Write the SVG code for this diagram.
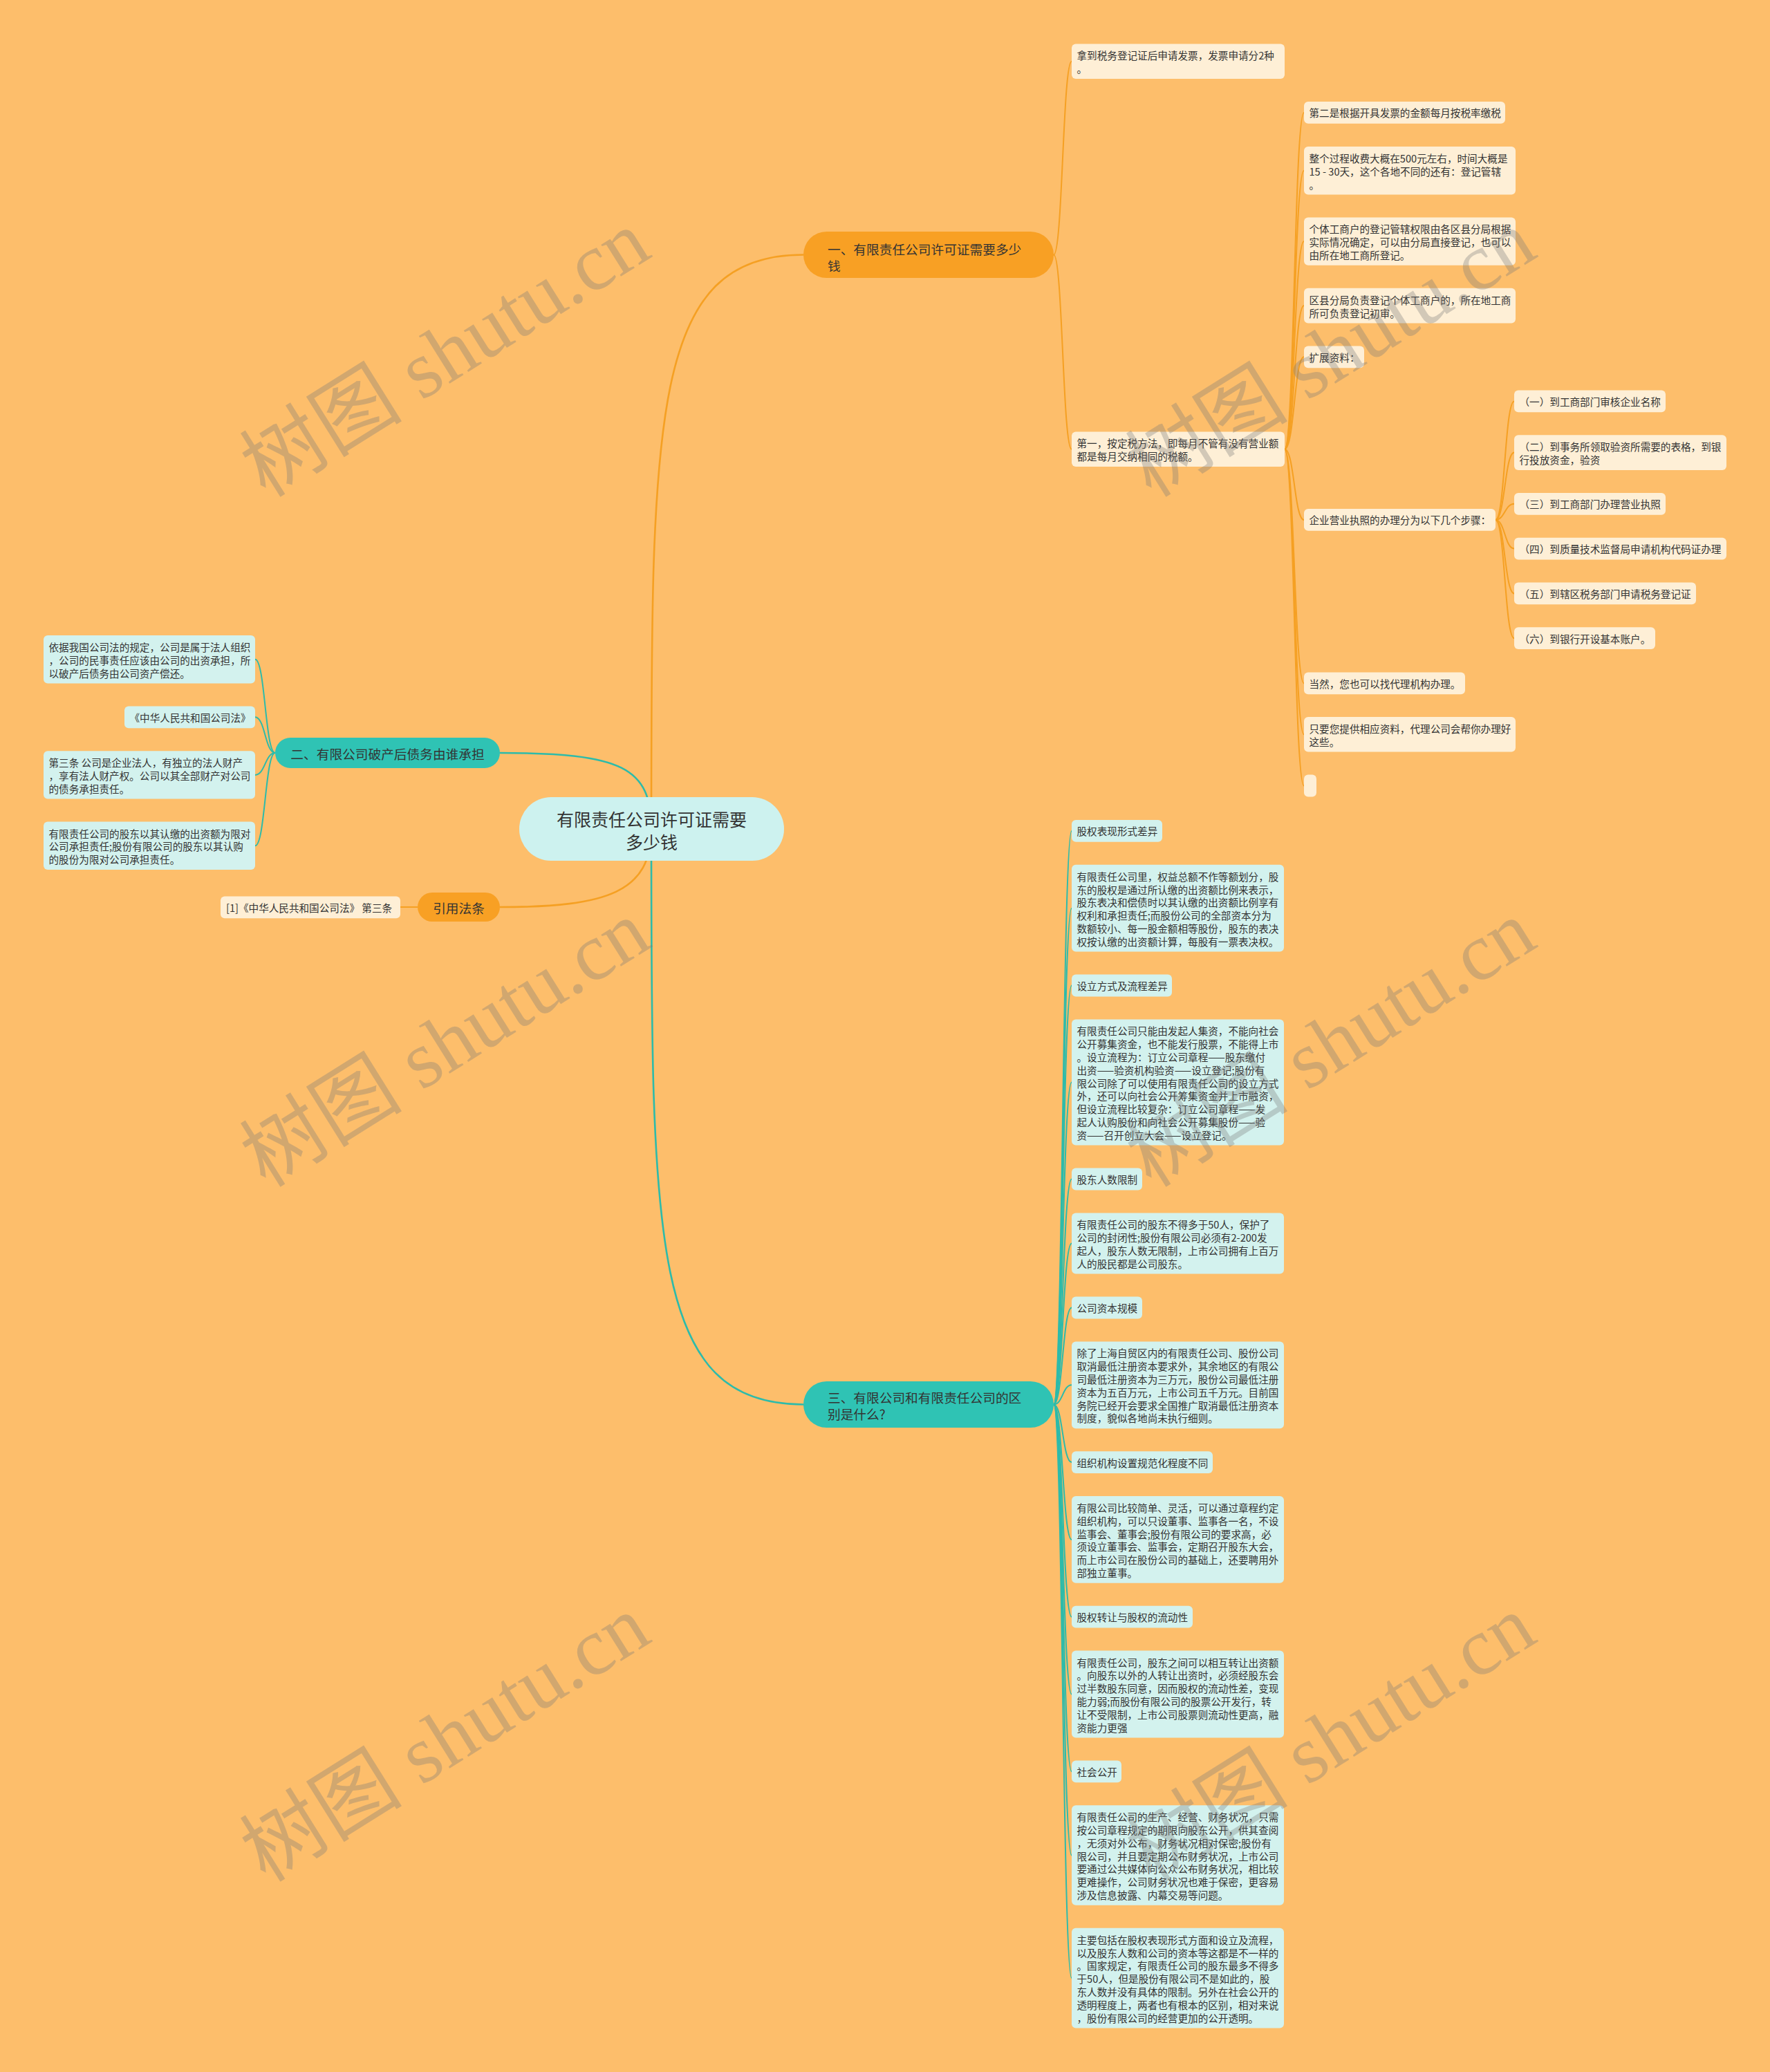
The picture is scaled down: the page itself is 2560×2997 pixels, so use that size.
<svg xmlns="http://www.w3.org/2000/svg" width="2560" height="2997" viewBox="0 0 2560 2997">
<style>
.t{font-family:"Noto Sans CJK SC","Noto Sans",sans-serif;font-size:14.6px;fill:#333333;dominant-baseline:central}
.tb{font-family:"Noto Sans CJK SC","Noto Sans",sans-serif;font-size:18.7px;fill:#333333;dominant-baseline:central}
.tr{font-family:"Noto Sans CJK SC","Noto Sans",sans-serif;font-size:25px;fill:#333333;dominant-baseline:central;text-anchor:middle}
.lo{fill:#FEEFD6}
.lt{fill:#D3F2EE}
.bo{fill:#F8A024}
.bt{fill:#2FC3B4}
.co{fill:none;stroke:#F5A023;stroke-width:2}
.ct{fill:none;stroke:#2DBBAA;stroke-width:2}
.mo{fill:none;stroke:#F5A023;stroke-width:2.6}
.mt{fill:none;stroke:#2DBBAA;stroke-width:2.6}
.wm{font-family:"Liberation Serif","Noto Sans CJK SC",serif;font-size:118px;fill:#7a7a7a;fill-opacity:0.33;text-anchor:middle;dominant-baseline:central}
</style>
<rect x="0" y="0" width="2560" height="2997" fill="#FDBE6B"/>

<g id="connectors">
  <!-- root -->
  <path class="mo" d="M942 1199 C942 600 942 368.5 1162 368.5"/>
  <path class="mt" d="M942 1199 C942 1110 900 1089 723 1089"/>
  <path class="mo" d="M942 1199 C942 1290 880 1312 723 1312"/>
  <path class="mt" d="M942 1199 C942 1800 942 2031.5 1162 2031.5"/>
  <!-- citation -->
  <path class="co" d="M604 1312 L579 1312"/>
  <!-- branch 2 -->
  <path class="ct" d="M398 1089 C383.5 1089 383.5 953.7 369 953.7"/>
  <path class="ct" d="M398 1089 C383.5 1089 383.5 1037.3 369 1037.3"/>
  <path class="ct" d="M398 1089 C383.5 1089 383.5 1120.9 369 1120.9"/>
  <path class="ct" d="M398 1089 C383.5 1089 383.5 1223.3 369 1223.3"/>
  <!-- branch 1 -->
  <path class="co" d="M1524 368.5 C1537 368.5 1537 88.8 1550 88.8"/>
  <path class="co" d="M1524 368.5 C1537 368.5 1537 649.8 1550 649.8"/>
  <!-- A2 children -->
  <path class="co" d="M1858 649.8 C1872 649.8 1872 162.9 1886 162.9"/>
  <path class="co" d="M1858 649.8 C1872 649.8 1872 246.7 1886 246.7"/>
  <path class="co" d="M1858 649.8 C1872 649.8 1872 349.1 1886 349.1"/>
  <path class="co" d="M1858 649.8 C1872 649.8 1872 442.1 1886 442.1"/>
  <path class="co" d="M1858 649.8 C1872 649.8 1872 516.3 1886 516.3"/>
  <path class="co" d="M1858 649.8 C1872 649.8 1872 751.9 1886 751.9"/>
  <path class="co" d="M1858 649.8 C1872 649.8 1872 988.4 1886 988.4"/>
  <path class="co" d="M1858 649.8 C1872 649.8 1872 1062.3 1886 1062.3"/>
  <path class="co" d="M1858 649.8 C1872 649.8 1872 1136.5 1886 1136.5"/>
  <!-- B6 children -->
  <path class="co" d="M2163 751.9 C2176.5 751.9 2176.5 580.4 2190 580.4"/>
  <path class="co" d="M2163 751.9 C2176.5 751.9 2176.5 654.6 2190 654.6"/>
  <path class="co" d="M2163 751.9 C2176.5 751.9 2176.5 728.8 2190 728.8"/>
  <path class="co" d="M2163 751.9 C2176.5 751.9 2176.5 793.6 2190 793.6"/>
  <path class="co" d="M2163 751.9 C2176.5 751.9 2176.5 858.4 2190 858.4"/>
  <path class="co" d="M2163 751.9 C2176.5 751.9 2176.5 923.2 2190 923.2"/>
  <!-- branch 3 -->
  <path class="ct" d="M1524 2031.5 C1537 2031.5 1537 1201.9 1550 1201.9"/>
  <path class="ct" d="M1524 2031.5 C1537 2031.5 1537 1313.7 1550 1313.7"/>
  <path class="ct" d="M1524 2031.5 C1537 2031.5 1537 1425.5 1550 1425.5"/>
  <path class="ct" d="M1524 2031.5 C1537 2031.5 1537 1565.5 1550 1565.5"/>
  <path class="ct" d="M1524 2031.5 C1537 2031.5 1537 1705.5 1550 1705.5"/>
  <path class="ct" d="M1524 2031.5 C1537 2031.5 1537 1798.5 1550 1798.5"/>
  <path class="ct" d="M1524 2031.5 C1537 2031.5 1537 1891.5 1550 1891.5"/>
  <path class="ct" d="M1524 2031.5 C1537 2031.5 1537 2003.3 1550 2003.3"/>
  <path class="ct" d="M1524 2031.5 C1537 2031.5 1537 2115.1 1550 2115.1"/>
  <path class="ct" d="M1524 2031.5 C1537 2031.5 1537 2226.9 1550 2226.9"/>
  <path class="ct" d="M1524 2031.5 C1537 2031.5 1537 2338.7 1550 2338.7"/>
  <path class="ct" d="M1524 2031.5 C1537 2031.5 1537 2450.5 1550 2450.5"/>
  <path class="ct" d="M1524 2031.5 C1537 2031.5 1537 2562.3 1550 2562.3"/>
  <path class="ct" d="M1524 2031.5 C1537 2031.5 1537 2683.5 1550 2683.5"/>
  <path class="ct" d="M1524 2031.5 C1537 2031.5 1537 2861.1 1550 2861.1"/>
</g>

<g id="root">
  <rect x="751" y="1153" width="383" height="92" rx="46" fill="#CDF2EF"/>
  <text class="tr"><tspan x="942.5" y="1184">有限责任公司许可证需要</tspan><tspan x="942.5" y="1217">多少钱</tspan></text>
</g>

<g id="branch1">
  <rect class="bo" x="1162" y="335" width="362" height="67" rx="33.5"/>
  <text class="tb"><tspan x="1197" y="358.5">一、有限责任公司许可证需要多少</tspan><tspan x="1197" y="382.5">钱</tspan></text>
</g>
<g id="branch2">
  <rect class="bt" x="398" y="1067" width="325" height="44" rx="22"/>
  <text class="tb" text-anchor="middle" x="560.5" y="1089">二、有限公司破产后债务由谁承担</text>
</g>
<g id="branch-cite">
  <rect class="bo" x="604" y="1291" width="119" height="42" rx="21"/>
  <text class="tb" text-anchor="middle" x="663.5" y="1312">引用法条</text>
</g>
<g id="branch3">
  <rect class="bt" x="1162" y="1998" width="362" height="67" rx="33.5"/>
  <text class="tb"><tspan x="1197" y="2020">三、有限公司和有限责任公司的区</tspan><tspan x="1197" y="2044">别是什么?</tspan></text>
</g>

<g id="cite1">
  <rect class="lo" x="319" y="1296.5" width="260" height="31.8" rx="6"/>
  <text class="t" x="327" y="1312.4">[1]《中华人民共和国公司法》 第三条</text>
</g>

<g id="L1">
  <rect class="lt" x="63" y="919" width="306" height="69.4" rx="6"/>
  <text class="t"><tspan x="70.5" y="934.9">依据我国公司法的规定，公司是属于法人组织</tspan><tspan x="70.5" y="953.7">，公司的民事责任应该由公司的出资承担，所</tspan><tspan x="70.5" y="972.5">以破产后债务由公司资产偿还。</tspan></text>
</g>
<g id="L2">
  <rect class="lt" x="180" y="1021.4" width="189" height="31.8" rx="6"/>
  <text class="t" x="187.5" y="1037.3">《中华人民共和国公司法》</text>
</g>
<g id="L3">
  <rect class="lt" x="63" y="1086.2" width="306" height="69.4" rx="6"/>
  <text class="t"><tspan x="70.5" y="1102.1">第三条 公司是企业法人，有独立的法人财产</tspan><tspan x="70.5" y="1120.9">，享有法人财产权。公司以其全部财产对公司</tspan><tspan x="70.5" y="1139.7">的债务承担责任。</tspan></text>
</g>
<g id="L4">
  <rect class="lt" x="63" y="1188.6" width="306" height="69.4" rx="6"/>
  <text class="t"><tspan x="70.5" y="1204.5">有限责任公司的股东以其认缴的出资额为限对</tspan><tspan x="70.5" y="1223.3">公司承担责任;股份有限公司的股东以其认购</tspan><tspan x="70.5" y="1242.1">的股份为限对公司承担责任。</tspan></text>
</g>

<g id="A1">
  <rect class="lo" x="1550" y="63.5" width="308" height="50.6" rx="6"/>
  <text class="t"><tspan x="1557.5" y="79.4">拿到税务登记证后申请发票，发票申请分2种</tspan><tspan x="1557.5" y="98.2">。</tspan></text>
</g>
<g id="A2">
  <rect class="lo" x="1550" y="624.5" width="308" height="50.6" rx="6"/>
  <text class="t"><tspan x="1557.5" y="640.4">第一，按定税方法，即每月不管有没有营业额</tspan><tspan x="1557.5" y="659.2">都是每月交纳相同的税额。</tspan></text>
</g>

<g id="B1">
  <rect class="lo" x="1886" y="147" width="291" height="31.8" rx="6"/>
  <text class="t" x="1893.5" y="162.9">第二是根据开具发票的金额每月按税率缴税</text>
</g>
<g id="B2">
  <rect class="lo" x="1886" y="212" width="306" height="69.4" rx="6"/>
  <text class="t"><tspan x="1893.5" y="227.9">整个过程收费大概在500元左右，时间大概是</tspan><tspan x="1893.5" y="246.7">15 - 30天，这个各地不同的还有：登记管辖</tspan><tspan x="1893.5" y="265.5">。</tspan></text>
</g>
<g id="B3">
  <rect class="lo" x="1886" y="314.4" width="306" height="69.4" rx="6"/>
  <text class="t"><tspan x="1893.5" y="330.3">个体工商户的登记管辖权限由各区县分局根据</tspan><tspan x="1893.5" y="349.1">实际情况确定，可以由分局直接登记，也可以</tspan><tspan x="1893.5" y="367.9">由所在地工商所登记。</tspan></text>
</g>
<g id="B4">
  <rect class="lo" x="1886" y="416.8" width="306" height="50.6" rx="6"/>
  <text class="t"><tspan x="1893.5" y="432.7">区县分局负责登记个体工商户的，所在地工商</tspan><tspan x="1893.5" y="451.5">所可负责登记初审。</tspan></text>
</g>
<g id="B5">
  <rect class="lo" x="1886" y="500.4" width="87" height="31.8" rx="6"/>
  <text class="t" x="1893.5" y="516.3">扩展资料：</text>
</g>
<g id="B6">
  <rect class="lo" x="1886" y="736" width="277" height="31.8" rx="6"/>
  <text class="t" x="1893.5" y="751.9">企业营业执照的办理分为以下几个步骤：</text>
</g>
<g id="B7">
  <rect class="lo" x="1886" y="972.5" width="233" height="31.8" rx="6"/>
  <text class="t" x="1893.5" y="988.4">当然，您也可以找代理机构办理。</text>
</g>
<g id="B8">
  <rect class="lo" x="1886" y="1037" width="306" height="50.6" rx="6"/>
  <text class="t"><tspan x="1893.5" y="1052.9">只要您提供相应资料，代理公司会帮你办理好</tspan><tspan x="1893.5" y="1071.7">这些。</tspan></text>
</g>
<g id="B9">
  <rect class="lo" x="1886" y="1120.6" width="18" height="31.8" rx="6"/>
</g>

<g id="C1">
  <rect class="lo" x="2190" y="564.5" width="219" height="31.8" rx="6"/>
  <text class="t" x="2197.5" y="580.4">（一）到工商部门审核企业名称</text>
</g>
<g id="C2">
  <rect class="lo" x="2190" y="629.3" width="307" height="50.6" rx="6"/>
  <text class="t"><tspan x="2197.5" y="645.2">（二）到事务所领取验资所需要的表格，到银</tspan><tspan x="2197.5" y="664">行投放资金，验资</tspan></text>
</g>
<g id="C3">
  <rect class="lo" x="2190" y="712.9" width="219" height="31.8" rx="6"/>
  <text class="t" x="2197.5" y="728.8">（三）到工商部门办理营业执照</text>
</g>
<g id="C4">
  <rect class="lo" x="2190" y="777.7" width="307" height="31.8" rx="6"/>
  <text class="t" x="2197.5" y="793.6">（四）到质量技术监督局申请机构代码证办理</text>
</g>
<g id="C5">
  <rect class="lo" x="2190" y="842.5" width="263" height="31.8" rx="6"/>
  <text class="t" x="2197.5" y="858.4">（五）到辖区税务部门申请税务登记证</text>
</g>
<g id="C6">
  <rect class="lo" x="2190" y="907.3" width="204" height="31.8" rx="6"/>
  <text class="t" x="2197.5" y="923.2">（六）到银行开设基本账户。</text>
</g>

<g id="D1">
  <rect class="lt" x="1550" y="1186" width="131" height="31.8" rx="6"/>
  <text class="t" x="1557.5" y="1201.9">股权表现形式差异</text>
</g>
<g id="D2">
  <rect class="lt" x="1550" y="1250.8" width="307" height="125.8" rx="6"/>
  <text class="t"><tspan x="1557.5" y="1266.7">有限责任公司里，权益总额不作等额划分，股</tspan><tspan x="1557.5" y="1285.5">东的股权是通过所认缴的出资额比例来表示，</tspan><tspan x="1557.5" y="1304.3">股东表决和偿债时以其认缴的出资额比例享有</tspan><tspan x="1557.5" y="1323.1">权利和承担责任;而股份公司的全部资本分为</tspan><tspan x="1557.5" y="1341.9">数额较小、每一股金额相等股份，股东的表决</tspan><tspan x="1557.5" y="1360.7">权按认缴的出资额计算，每股有一票表决权。</tspan></text>
</g>
<g id="D3">
  <rect class="lt" x="1550" y="1409.6" width="145" height="31.8" rx="6"/>
  <text class="t" x="1557.5" y="1425.5">设立方式及流程差异</text>
</g>
<g id="D4">
  <rect class="lt" x="1550" y="1474.4" width="307" height="182.2" rx="6"/>
  <text class="t"><tspan x="1557.5" y="1490.3">有限责任公司只能由发起人集资，不能向社会</tspan><tspan x="1557.5" y="1509.1">公开募集资金，也不能发行股票，不能得上市</tspan><tspan x="1557.5" y="1527.9">。设立流程为：订立公司章程——股东缴付</tspan><tspan x="1557.5" y="1546.7">出资——验资机构验资——设立登记;股份有</tspan><tspan x="1557.5" y="1565.5">限公司除了可以使用有限责任公司的设立方式</tspan><tspan x="1557.5" y="1584.3">外，还可以向社会公开筹集资金并上市融资，</tspan><tspan x="1557.5" y="1603.1">但设立流程比较复杂：订立公司章程——发</tspan><tspan x="1557.5" y="1621.9">起人认购股份和向社会公开募集股份——验</tspan><tspan x="1557.5" y="1640.7">资——召开创立大会——设立登记。</tspan></text>
</g>
<g id="D5">
  <rect class="lt" x="1550" y="1689.6" width="102" height="31.8" rx="6"/>
  <text class="t" x="1557.5" y="1705.5">股东人数限制</text>
</g>
<g id="D6">
  <rect class="lt" x="1550" y="1754.4" width="307" height="88.2" rx="6"/>
  <text class="t"><tspan x="1557.5" y="1770.3">有限责任公司的股东不得多于50人，保护了</tspan><tspan x="1557.5" y="1789.1">公司的封闭性;股份有限公司必须有2-200发</tspan><tspan x="1557.5" y="1807.9">起人，股东人数无限制，上市公司拥有上百万</tspan><tspan x="1557.5" y="1826.7">人的股民都是公司股东。</tspan></text>
</g>
<g id="D7">
  <rect class="lt" x="1550" y="1875.6" width="102" height="31.8" rx="6"/>
  <text class="t" x="1557.5" y="1891.5">公司资本规模</text>
</g>
<g id="D8">
  <rect class="lt" x="1550" y="1940.4" width="307" height="125.8" rx="6"/>
  <text class="t"><tspan x="1557.5" y="1956.3">除了上海自贸区内的有限责任公司、股份公司</tspan><tspan x="1557.5" y="1975.1">取消最低注册资本要求外，其余地区的有限公</tspan><tspan x="1557.5" y="1993.9">司最低注册资本为三万元，股份公司最低注册</tspan><tspan x="1557.5" y="2012.7">资本为五百万元，上市公司五千万元。目前国</tspan><tspan x="1557.5" y="2031.5">务院已经开会要求全国推广取消最低注册资本</tspan><tspan x="1557.5" y="2050.3">制度，貌似各地尚未执行细则。</tspan></text>
</g>
<g id="D9">
  <rect class="lt" x="1550" y="2099.2" width="204" height="31.8" rx="6"/>
  <text class="t" x="1557.5" y="2115.1">组织机构设置规范化程度不同</text>
</g>
<g id="D10">
  <rect class="lt" x="1550" y="2164" width="307" height="125.8" rx="6"/>
  <text class="t"><tspan x="1557.5" y="2179.9">有限公司比较简单、灵活，可以通过章程约定</tspan><tspan x="1557.5" y="2198.7">组织机构，可以只设董事、监事各一名，不设</tspan><tspan x="1557.5" y="2217.5">监事会、董事会;股份有限公司的要求高，必</tspan><tspan x="1557.5" y="2236.3">须设立董事会、监事会，定期召开股东大会，</tspan><tspan x="1557.5" y="2255.1">而上市公司在股份公司的基础上，还要聘用外</tspan><tspan x="1557.5" y="2273.9">部独立董事。</tspan></text>
</g>
<g id="D11">
  <rect class="lt" x="1550" y="2322.8" width="175" height="31.8" rx="6"/>
  <text class="t" x="1557.5" y="2338.7">股权转让与股权的流动性</text>
</g>
<g id="D12">
  <rect class="lt" x="1550" y="2387.6" width="307" height="125.8" rx="6"/>
  <text class="t"><tspan x="1557.5" y="2403.5">有限责任公司，股东之间可以相互转让出资额</tspan><tspan x="1557.5" y="2422.3">。向股东以外的人转让出资时，必须经股东会</tspan><tspan x="1557.5" y="2441.1">过半数股东同意，因而股权的流动性差，变现</tspan><tspan x="1557.5" y="2459.9">能力弱;而股份有限公司的股票公开发行，转</tspan><tspan x="1557.5" y="2478.7">让不受限制，上市公司股票则流动性更高，融</tspan><tspan x="1557.5" y="2497.5">资能力更强</tspan></text>
</g>
<g id="D13">
  <rect class="lt" x="1550" y="2546.4" width="72" height="31.8" rx="6"/>
  <text class="t" x="1557.5" y="2562.3">社会公开</text>
</g>
<g id="D14">
  <rect class="lt" x="1550" y="2611.2" width="307" height="144.6" rx="6"/>
  <text class="t"><tspan x="1557.5" y="2627.1">有限责任公司的生产、经营、财务状况，只需</tspan><tspan x="1557.5" y="2645.9">按公司章程规定的期限向股东公开，供其查阅</tspan><tspan x="1557.5" y="2664.7">，无须对外公布，财务状况相对保密;股份有</tspan><tspan x="1557.5" y="2683.5">限公司，并且要定期公布财务状况，上市公司</tspan><tspan x="1557.5" y="2702.3">要通过公共媒体向公众公布财务状况，相比较</tspan><tspan x="1557.5" y="2721.1">更难操作，公司财务状况也难于保密，更容易</tspan><tspan x="1557.5" y="2739.9">涉及信息披露、内幕交易等问题。</tspan></text>
</g>
<g id="D15">
  <rect class="lt" x="1550" y="2788.8" width="307" height="144.6" rx="6"/>
  <text class="t"><tspan x="1557.5" y="2804.7">主要包括在股权表现形式方面和设立及流程，</tspan><tspan x="1557.5" y="2823.5">以及股东人数和公司的资本等这都是不一样的</tspan><tspan x="1557.5" y="2842.3">。国家规定，有限责任公司的股东最多不得多</tspan><tspan x="1557.5" y="2861.1">于50人，但是股份有限公司不是如此的，股</tspan><tspan x="1557.5" y="2879.9">东人数并没有具体的限制。另外在社会公开的</tspan><tspan x="1557.5" y="2898.7">透明程度上，两者也有根本的区别，相对来说</tspan><tspan x="1557.5" y="2917.5">，股份有限公司的经营更加的公开透明。</tspan></text>
</g>

<g id="watermarks">
  <text class="wm" transform="translate(644 512) rotate(-32)">树图 shutu.cn</text>
  <text class="wm" transform="translate(1925 512) rotate(-32)">树图 shutu.cn</text>
  <text class="wm" transform="translate(644 1510) rotate(-32)">树图 shutu.cn</text>
  <text class="wm" transform="translate(1925 1510) rotate(-32)">树图 shutu.cn</text>
  <text class="wm" transform="translate(644 2515) rotate(-32)">树图 shutu.cn</text>
  <text class="wm" transform="translate(1925 2515) rotate(-32)">树图 shutu.cn</text>
</g>
</svg>
